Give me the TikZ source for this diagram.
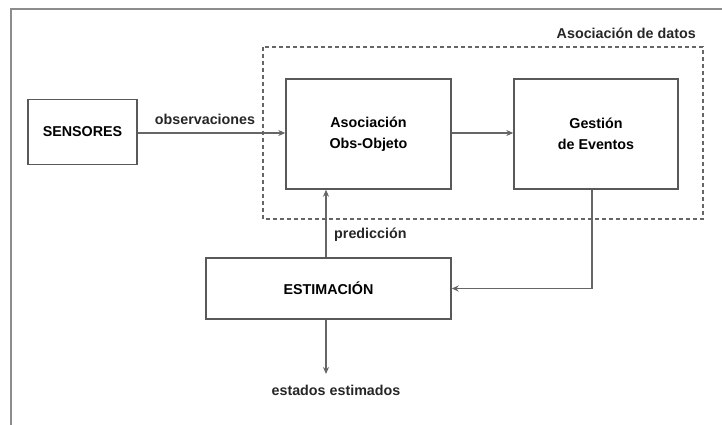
\documentclass[tikz,border=0pt]{standalone}
\usepackage{fontspec}
\setmainfont{Liberation Sans}
\usetikzlibrary{arrows.meta}
\begin{document}
\begin{tikzpicture}[x=1pt,y=-1pt,
  font=\bfseries\fontsize{14.3}{21}\selectfont,
  box/.style={draw=black!65,line width=1.4pt,fill=white,inner sep=0pt,align=center},
  conn/.style={draw=black!60,line width=1.3pt,-{Stealth[length=7pt,width=6pt]}},
  lbl/.style={inner sep=0pt,text=black!85}]
\useasboundingbox (0,0) rectangle (722,425);
\draw[black!45,line width=1.2pt] (11,425) -- (11,9) -- (722,9);
% dashed group
\draw[black!60,line width=1.1pt,dash pattern=on 4pt off 3pt] (263,47) rectangle (703,219);
\node[lbl,anchor=east] (grp) at (696,33) {Asociación de datos};
% boxes
\node[box,minimum width=109pt,minimum height=65pt] (sens) at (82.5,132) {SENSORES};
\node[box,minimum width=165pt,minimum height=110pt] (aso) at (368.5,134) {Asociación\\Obs-Objeto};
\node[box,minimum width=164pt,minimum height=110pt] (ges) at (596,134) {Gestión\\de Eventos};
\node[box,minimum width=245pt,minimum height=61pt] (est) at (328.5,288.5) {ESTIMACIÓN};
% connectors
\draw[conn] (sens.east|-0,133) -- (aso.west|-0,133);
\node[lbl] (obs) at (205,119) {observaciones};
\draw[conn] (aso.east|-0,133) -- (ges.west|-0,133);
\coordinate (pu) at (326,257);
\draw[conn] (est.north-|pu) -- (aso.south-|pu);
\node[lbl,anchor=west] (pred) at (334,235) {predicción};
\coordinate (gx) at (592,0);
\draw[conn] (ges.south-|gx) |- (est.east);
\coordinate (outend) at (326,374);
\draw[conn] (est.south-|outend) -- (outend);
\node[lbl] (outl) at (336,390) {estados estimados};
\end{tikzpicture}
\end{document}
